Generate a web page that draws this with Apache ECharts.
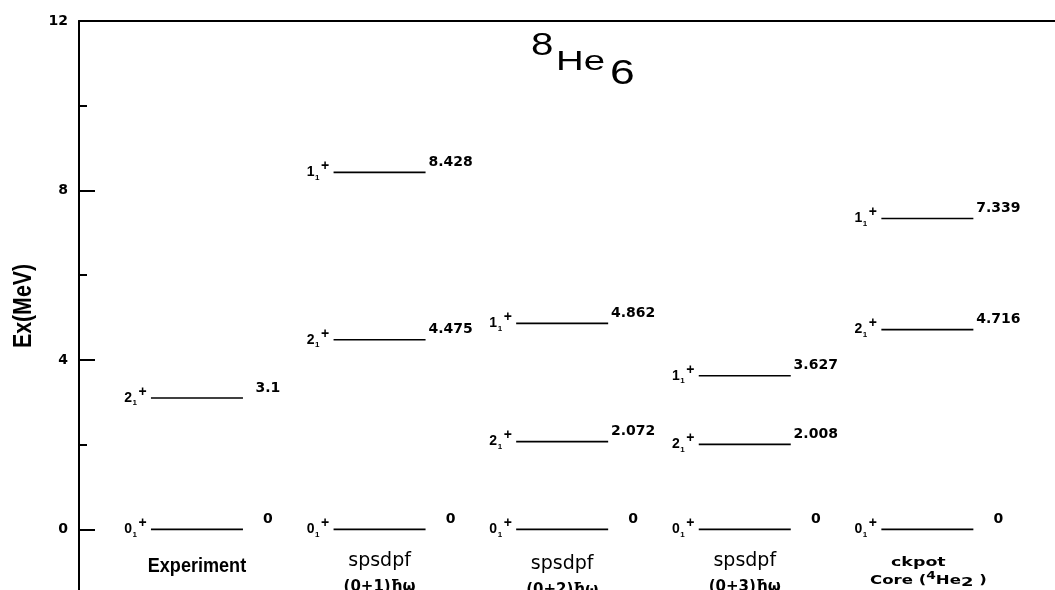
<!DOCTYPE html>
<html><head><meta charset="utf-8">
<script src="https://cdn.jsdelivr.net/npm/echarts@6/dist/echarts.min.js"></script>
<style>html,body{margin:0;padding:0;background:#fff}#c{width:1055px;height:590px}</style>
</head><body><div id="c"></div>
<script>
// ---- data ----
const colLine1 = ['Experiment', 'spsdpf', 'spsdpf', 'spsdpf', 'ckpot'];
const colLine2 = ['', '(0+1)ħω', '(0+2)ħω', '(0+3)ħω', '{b|Core (}{sup|4}{b|He}{sub|2}{b| )}'];
const expEnergies = [0, 3.1];
const expSpins = ['0', '2'];
const sp1Energies = [0, 4.475, 8.428];
const sp1Spins = ['0', '2', '1'];
const sp2Energies = [0, 2.072, 4.862];
const sp2Spins = ['0', '2', '1'];
const sp3Energies = [0, 2.008, 3.627];
const sp3Spins = ['0', '2', '1'];
const ckEnergies = [0, 4.716, 7.339];
const ckSpins = ['0', '2', '1'];
const yMajorTicks = [0, 4, 8, 12];
const yMinorTicks = [2, 6, 10];
const yTitle = 'Ex(MeV)';

const allE = [expEnergies, sp1Energies, sp2Energies, sp3Energies, ckEnergies];
const allS = [expSpins, sp1Spins, sp2Spins, sp3Spins, ckSpins];
const levels = [];
allE.forEach((arr, ci) => arr.forEach((E, k) => levels.push({ value: [ci, E], spin: allS[ci][k] })));

const BLK = '#000';
const chart = echarts.init(document.getElementById('c'), null, { renderer: 'canvas' });

function levelItem(params, api) {
  const c = api.coord([api.value(0), api.value(1)]);
  const cx = c[0], y = c[1], half = 46;
  const s = cx - half, e = cx + half;
  const lv = levels[params.dataIndex];
  const E = api.value(1);
  return {
    type: 'group', children: [
      { type: 'line', shape: { x1: s, y1: y, x2: e, y2: y }, style: { stroke: BLK, lineWidth: 1.6 } },
      { type: 'text', style: { text: lv.spin, x: s - 19, y: y, align: 'right', verticalAlign: 'middle', font: 'bold 14px "Liberation Sans"', fill: BLK } },
      { type: 'text', style: { text: '1', x: s - 18.5, y: y + 5, align: 'left', verticalAlign: 'middle', font: 'bold 8px "Liberation Sans"', fill: BLK } },
      { type: 'text', style: { text: '+', x: s - 12.5, y: y - 6, align: 'left', verticalAlign: 'middle', font: 'bold 14px "Liberation Sans"', fill: BLK } },
      { type: 'text', style: { text: String(E), x: cx + 71, y: y - 10, align: 'center', verticalAlign: 'middle', font: 'bold 14px "DejaVu Sans"', fill: BLK } }
    ]
  };
}

function colItem(params, api) {
  const i = api.value(0);
  const c = api.coord([i, 0]);
  const cx = c[0], y0 = c[1];
  const l1 = colLine1[params.dataIndex], l2 = colLine2[params.dataIndex];
  const ch = [];
  if (i === 0) {
    ch.push({ type: 'text', x: cx, y: y0 + 37, scaleX: 0.86, style: { text: l1, x: 0, y: 0, align: 'center', verticalAlign: 'middle', font: 'bold 21px "Liberation Sans"', fill: BLK } });
  } else if (i === 4) {
    ch.push({ type: 'text', x: cx - 9, y: y0 + 33, scaleX: 1.45, style: { text: l1, x: 0, y: 0, align: 'center', verticalAlign: 'middle', font: 'bold 12px "DejaVu Sans"', fill: BLK } });
    ch.push({ type: 'text', x: cx + 1, y: y0 + 51, scaleX: 1.38, style: { text: l2, x: 0, y: 0, align: 'center', verticalAlign: 'middle', fill: BLK,
      rich: {
        b: { font: 'bold 12px "DejaVu Sans"', verticalAlign: 'middle', lineHeight: 18 },
        sup: { font: 'bold 10px "DejaVu Sans"', verticalAlign: 'top', lineHeight: 10 },
        sub: { font: 'bold 13px "DejaVu Sans"', verticalAlign: 'bottom', lineHeight: 12 }
      } } });
  } else {
    const dy = i === 2 ? 3 : 0;
    ch.push({ type: 'text', x: cx, y: y0 + 32 + dy, style: { text: l1, x: 0, y: 0, align: 'center', verticalAlign: 'middle', font: '19px "DejaVu Sans"', fill: BLK } });
    ch.push({ type: 'text', x: cx, y: y0 + 58 + dy, style: { text: l2, x: 0, y: 0, align: 'center', verticalAlign: 'middle', font: 'bold 15px "DejaVu Sans"', fill: BLK } });
  }
  return { type: 'group', children: ch };
}

const Y_MIN = -1.43, Y_MAX = 12;

chart.setOption({
  animation: false,
  backgroundColor: '#fff',
  grid: { left: 79, top: 21, right: 0, bottom: 0, containLabel: false },
  xAxis: {
    type: 'value', position: 'top', min: -0.646, max: 4.699,
    axisLine: { show: true, onZero: false, lineStyle: { color: BLK, width: 2 } },
    axisTick: { show: false }, axisLabel: { show: false }, splitLine: { show: false }
  },
  yAxis: [{
    type: 'value', min: Y_MIN, max: Y_MAX,
    axisLine: { show: true, onZero: false, lineStyle: { color: BLK, width: 2 } },
    axisTick: { show: true, inside: true, length: 16, customValues: yMajorTicks, lineStyle: { color: BLK, width: 2 } },
    splitLine: { show: false },
    axisLabel: { color: BLK, fontFamily: 'DejaVu Sans', fontWeight: 'bold', fontSize: 14, margin: 11, customValues: yMajorTicks }
  }, {
    type: 'value', min: Y_MIN, max: Y_MAX, position: 'left',
    axisLine: { show: false, onZero: false },
    axisTick: { show: true, inside: true, length: 8, customValues: yMinorTicks, lineStyle: { color: BLK, width: 2 } },
    splitLine: { show: false },
    axisLabel: { show: false }
  }],
  graphic: [
    { type: 'text', x: 24, y: 306, rotation: Math.PI / 2, scaleX: 0.82, style: { text: yTitle, x: 0, y: 0, align: 'center', verticalAlign: 'middle', font: 'bold 26px "Liberation Sans"', fill: BLK } },
    { type: 'text', x: 531, y: 46, scaleX: 1.3, style: { text: '8', x: 0, y: 0, align: 'left', verticalAlign: 'middle', font: '31px "Liberation Sans"', fill: BLK } },
    { type: 'text', x: 556, y: 62.5, scaleX: 1.42, style: { text: 'He', x: 0, y: 0, align: 'left', verticalAlign: 'middle', font: '27px "Liberation Sans"', fill: BLK } },
    { type: 'text', x: 610, y: 74.5, scaleX: 1.27, style: { text: '6', x: 0, y: 0, align: 'left', verticalAlign: 'middle', font: '35px "Liberation Sans"', fill: BLK } }
  ],
  series: [
    { type: 'custom', name: 'levels', coordinateSystem: 'cartesian2d', renderItem: levelItem, data: levels, encode: { x: 0, y: 1 }, clip: false },
    { type: 'custom', name: 'columns', coordinateSystem: 'cartesian2d', renderItem: colItem, data: colLine1.map((n, i) => [i, 0]), encode: { x: 0, y: 1 }, clip: false }
  ]
});
</script></body></html>
